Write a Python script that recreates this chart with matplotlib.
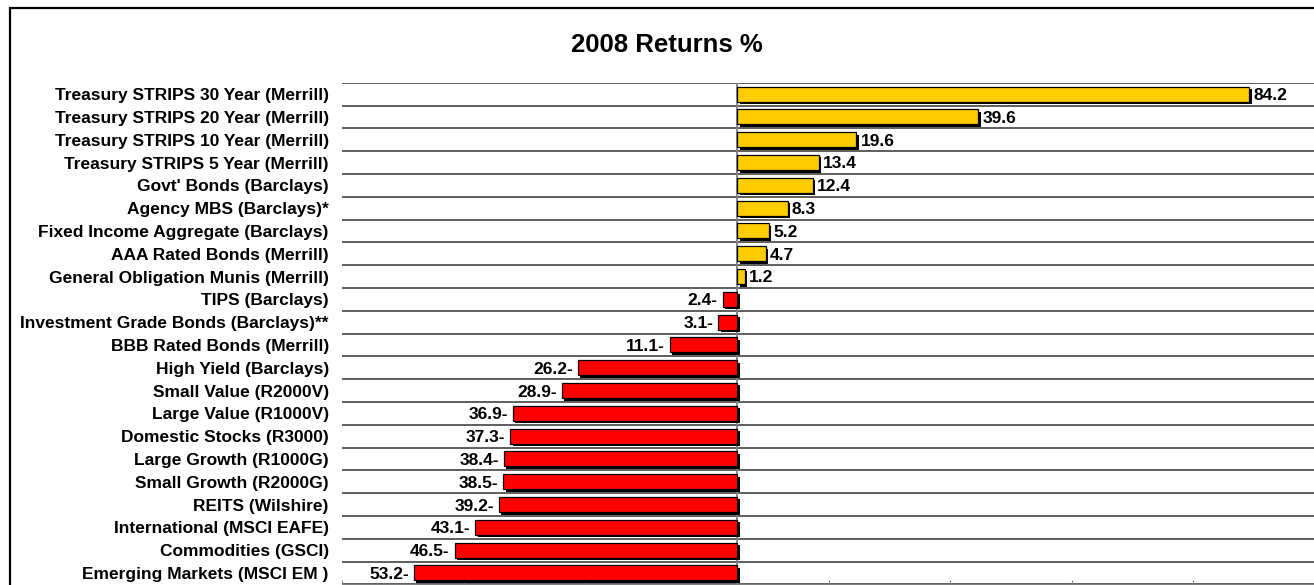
import matplotlib
matplotlib.use("Agg")
import matplotlib.pyplot as plt
import matplotlib.patheffects as pe
from matplotlib.patches import Rectangle

categories = [
    "Treasury STRIPS 30 Year (Merrill)",
    "Treasury STRIPS 20 Year (Merrill)",
    "Treasury STRIPS 10 Year (Merrill)",
    "Treasury STRIPS 5 Year (Merrill)",
    "Govt' Bonds (Barclays)",
    "Agency MBS (Barclays)*",
    "Fixed Income Aggregate (Barclays)",
    "AAA Rated Bonds (Merrill)",
    "General Obligation Munis (Merrill)",
    "TIPS (Barclays)",
    "Investment Grade Bonds (Barclays)**",
    "BBB Rated Bonds (Merrill)",
    "High Yield (Barclays)",
    "Small Value (R2000V)",
    "Large Value (R1000V)",
    "Domestic Stocks (R3000)",
    "Large Growth (R1000G)",
    "Small Growth (R2000G)",
    "REITS (Wilshire)",
    "International (MSCI EAFE)",
    "Commodities (GSCI)",
    "Emerging Markets (MSCI EM )",
]
returns = [84.2, 39.6, 19.6, 13.4, 12.4, 8.3, 5.2, 4.7, 1.2,
           -2.4, -3.1, -11.1, -26.2, -28.9, -36.9, -37.3, -38.4,
           -38.5, -39.2, -43.1, -46.5, -53.2]
title = "2008 Returns %"
x_ticks = [-65, -45, -25, -5, 15, 35, 55, 75, 95]

plt.rcParams['font.family'] = ['Liberation Sans', 'DejaVu Sans']
plt.rcParams['font.weight'] = 'bold'

W, H = 1314, 585
fig = plt.figure(figsize=(W / 100, H / 100), dpi=100)

# figure border (top + left visible)
fig.patches.append(Rectangle((9.5 / W, -0.1), 1.2, 1 - 8.5 / H + 0.1,
                             transform=fig.transFigure, fill=False,
                             edgecolor='black', linewidth=1.6, zorder=0))

ax = fig.add_axes([342 / W, 0.7 / H, 973 / W, (584.3 - 82.7) / H])
n = len(categories)
ypos = list(range(n))
colors = ['#FFCC00' if v >= 0 else '#FF0000' for v in returns]

bars = ax.barh(ypos, returns, height=0.66, color=colors, edgecolor='black',
               linewidth=0.9, zorder=3)
for b in bars:
    b.set_path_effects([pe.SimplePatchShadow(offset=(1.8, -1.8),
                                             shadow_rgbFace='black', alpha=1.0),
                        pe.Normal()])

for y, v in zip(ypos, returns):
    if v >= 0:
        ax.annotate(f"{v:.1f}", (v, y), xytext=(3, 0), textcoords='offset points',
                    ha='left', va='center_baseline', fontsize=12.5, fontweight='bold', zorder=4)
    else:
        ax.annotate(f"{abs(v):.1f}-", (v, y), xytext=(-3.5, 0), textcoords='offset points',
                    ha='right', va='center_baseline', fontsize=12.5, fontweight='bold', zorder=4)

ax.set_xlim(x_ticks[0], x_ticks[-1])
ax.set_ylim(n - 0.5, -0.5)

for k in range(n + 1):
    ax.axhline(k - 0.5, color='#333333', linewidth=1.1, zorder=1)
ax.axvline(0, color='#808080', linewidth=1.3, zorder=2)

ax.set_yticks(ypos)
ax.set_yticklabels(categories, fontsize=12.5, fontweight='bold')
ax.tick_params(axis='y', length=0, pad=9.5)
ax.set_xticks(x_ticks)
ax.set_xticklabels([])
ax.tick_params(axis='x', direction='in', length=3, color='#808080')

for s in ['left', 'right', 'top']:
    ax.spines[s].set_visible(False)
ax.spines['bottom'].set_color('#808080')

fig.text(667 / W, 1 - 45 / H, title, ha='center', va='center',
         fontsize=18.5, fontweight='bold')

fig.savefig('out.png', dpi=100)
